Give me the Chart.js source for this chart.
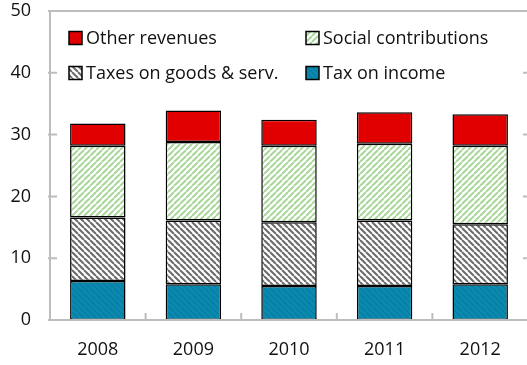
<!DOCTYPE html>
<html>
<head>
<meta charset="utf-8">
<script src="https://cdn.jsdelivr.net/npm/chart.js@4"></script>
<style>
  html, body { margin: 0; padding: 0; background: #fff; overflow: hidden; }
  #wrap { width: 532px; height: 365px; position: relative; }
</style>
</head>
<body>
<div id="wrap"><canvas id="chart"></canvas></div>
<script>
// --- Data ---
const years = ['2008', '2009', '2010', '2011', '2012'];
const taxOnIncome = [6.3, 5.8, 5.5, 5.5, 5.8];
const taxesOnGoods = [10.3, 10.3, 10.3, 10.6, 9.7];
const socialContributions = [11.6, 12.7, 12.4, 12.4, 12.7];
const otherRevenues = [3.6, 5.1, 4.2, 5.1, 5.1];
const yTicks = [0, 10, 20, 30, 40, 50];

const FONT = '"Open Sans", "Noto Sans", sans-serif';
const AXIS_GRAY = '#bdbdbd';

// --- Hatch patterns ---
function stripes(bg, fg, dir, width) {
    const size = 6;
    const c = document.createElement('canvas');
    c.width = size; c.height = size;
    const g = c.getContext('2d');
    g.fillStyle = bg;
    g.fillRect(0, 0, size, size);
    g.strokeStyle = fg;
    g.lineWidth = width;
    g.beginPath();
    if (dir === '/') {
        for (let k = -1; k <= 1; k++) {
            g.moveTo(k * size, size);
            g.lineTo(k * size + size, 0);
        }
    } else {
        for (let k = -1; k <= 1; k++) {
            g.moveTo(k * size, 0);
            g.lineTo(k * size + size, size);
        }
    }
    g.stroke();
    return g.createPattern(c, 'repeat');
}

const ctx = document.getElementById('chart').getContext('2d');
const incomeFill = stripes('#0a8ab0', '#0980a3', '\\', 2);
const goodsFill = stripes('#ffffff', '#6a6a6a', '\\', 2);
const socialFill = stripes('#ffffff', '#a9d79a', '/', 2);
const otherFill = '#e00000';

// legend order as in the picture
const legendItems = [
    { label: 'Other revenues', fill: otherFill, col: 0, row: 0 },
    { label: 'Social contributions', fill: socialFill, col: 1, row: 0 },
    { label: 'Taxes on goods & serv.', fill: goodsFill, col: 0, row: 1 },
    { label: 'Tax on income', fill: incomeFill, col: 1, row: 1 }
];

// --- Frame, inward ticks and legend ---
const framePlugin = {
    id: 'frame',
    afterDraw(chart) {
        const c = chart.ctx;
        const a = chart.chartArea;
        const y = chart.scales.y;
        const x = chart.scales.x;
        c.save();
        c.strokeStyle = AXIS_GRAY;
        c.lineWidth = 2;
        c.beginPath();
        c.moveTo(a.left, a.bottom);
        c.lineTo(a.left, a.top);
        c.lineTo(a.right, a.top);
        c.lineTo(a.right, a.bottom);
        c.lineTo(a.left, a.bottom);
        // y ticks (left crosses, right inward)
        yTicks.forEach(v => {
            const py = y.getPixelForValue(v);
            c.moveTo(a.left - 2, py);
            c.lineTo(a.left + 7, py);
            c.moveTo(a.right - 5, py);
            c.lineTo(a.right, py);
        });
        // x ticks between categories, pointing up
        for (let i = 1; i < years.length; i++) {
            const px = (x.getPixelForValue(i - 1) + x.getPixelForValue(i)) / 2;
            c.moveTo(px, a.bottom);
            c.lineTo(px, a.bottom - 7);
        }
        c.stroke();

        // legend
        c.font = '18px ' + FONT;
        c.textBaseline = 'middle';
        const colX = [69, 306];
        const rowY = [38, 73];
        legendItems.forEach(it => {
            const bx = colX[it.col];
            const by = rowY[it.row];
            c.fillStyle = it.fill;
            c.fillRect(bx, by - 6.5, 13, 13);
            c.strokeStyle = '#000';
            c.lineWidth = 1.5;
            c.strokeRect(bx, by - 6.5, 13, 13);
            c.fillStyle = '#111';
            c.fillText(it.label, bx + 17, by + 1);
        });
        c.restore();
    }
};

function barSet(label, data, fill) {
    return {
        label: label,
        data: data,
        backgroundColor: fill,
        borderColor: '#000',
        borderWidth: 1.5,
        borderSkipped: false,
        categoryPercentage: 1.0,
        barPercentage: 0.58
    };
}

new Chart(ctx, {
    type: 'bar',
    data: {
        labels: years,
        datasets: [
            barSet('Tax on income', taxOnIncome, incomeFill),
            barSet('Taxes on goods & serv.', taxesOnGoods, goodsFill),
            barSet('Social contributions', socialContributions, socialFill),
            barSet('Other revenues', otherRevenues, otherFill)
        ]
    },
    options: {
        responsive: true,
        maintainAspectRatio: false,
        animation: false,
        layout: { padding: { top: 11, right: 4, left: 0, bottom: 0 } },
        plugins: {
            legend: { display: false },
            tooltip: { enabled: false }
        },
        scales: {
            x: {
                stacked: true,
                grid: { display: false, drawTicks: false },
                border: { display: false },
                ticks: { color: '#111', font: { family: FONT, size: 18 }, padding: 19 },
                afterFit(s) { s.height = 45; s.paddingLeft = 0; s.paddingRight = 0; }
            },
            y: {
                stacked: true,
                min: 0,
                max: 50,
                grid: { display: false, drawTicks: false },
                border: { display: false },
                afterBuildTicks(s) { s.ticks = yTicks.map(v => ({ value: v })); },
                ticks: { color: '#111', font: { family: FONT, size: 18 }, padding: 19 },
                afterFit(s) { s.width = 50; s.paddingTop = 0; s.paddingBottom = 0; }
            }
        }
    },
    plugins: [framePlugin]
});
</script>
</body>
</html>
